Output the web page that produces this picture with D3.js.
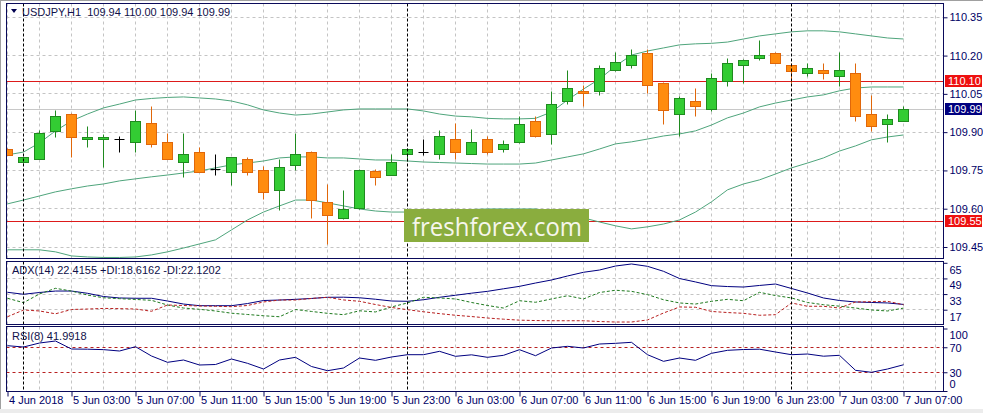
<!DOCTYPE html>
<html><head><meta charset="utf-8">
<script src="https://cdn.jsdelivr.net/npm/d3@7"></script>
<style>
body{margin:0;background:#fff;}
svg{display:block;}
text{font-family:"Liberation Sans Narrow","Arial Narrow","Liberation Sans",Arial,sans-serif;}
</style></head><body>
<svg id="c" width="983" height="413"></svg>
<script>
// ---------------- data ----------------
const symbolTitle = "USDJPY,H1  109.94 110.00 109.94 109.99";
const adxTitle = "ADX(14) 22.4155 +DI:18.6162 -DI:22.1202";
const rsiTitle = "RSI(8) 41.9918";

const timeLabels = ["4 Jun 2018","5 Jun 03:00","5 Jun 07:00","5 Jun 11:00","5 Jun 15:00","5 Jun 19:00","5 Jun 23:00",
  "6 Jun 03:00","6 Jun 07:00","6 Jun 11:00","6 Jun 15:00","6 Jun 19:00","6 Jun 23:00","7 Jun 03:00","7 Jun 07:00"];
const timeLabelIdx = [0,4,8,12,16,20,24,28,32,36,40,44,48,52,56];
const daySeparatorIdx = [1,25,49];

const open  = [109.833,109.780,109.794,109.902,109.970,109.872,109.872,109.872,109.860,109.932,
  109.860,109.780,109.821,109.752,109.743,109.794,109.749,109.671,109.769,109.821,
  109.624,109.561,109.599,109.744,109.731,109.813,109.820,109.813,109.872,109.813,
  109.872,109.833,109.859,109.941,109.892,110.022,110.061,110.061,110.140,110.163,
  110.209,110.091,109.970,110.022,109.990,110.100,110.160,110.189,110.209,110.162,
  110.131,110.140,110.117,110.131,109.970,109.931,109.940];
const high  = [109.835,109.801,109.906,109.984,109.972,109.924,109.892,109.882,109.983,110.002,
  109.893,109.893,109.841,109.814,109.801,109.801,109.765,109.794,109.893,109.823,
  109.696,109.673,109.753,109.752,109.814,109.835,109.872,109.905,109.932,109.912,
  109.882,109.869,109.961,109.961,110.061,110.140,110.081,110.163,110.211,110.222,
  110.222,110.093,110.039,110.072,110.131,110.189,110.184,110.261,110.211,110.170,
  110.170,110.170,110.213,110.170,110.042,109.970,110.000];
const low   = [109.807,109.778,109.794,109.880,109.801,109.841,109.761,109.821,109.820,109.841,
  109.794,109.722,109.743,109.729,109.690,109.729,109.638,109.592,109.749,109.560,
  109.461,109.559,109.597,109.690,109.731,109.784,109.810,109.791,109.791,109.811,
  109.813,109.820,109.857,109.879,109.852,110.009,110.000,110.042,110.138,110.150,
  110.052,109.931,109.882,109.961,109.980,110.078,110.091,110.180,110.168,110.091,
  110.117,110.108,110.078,109.941,109.902,109.859,109.940];
const close = [109.810,109.801,109.893,109.963,109.880,109.880,109.880,109.872,109.941,109.852,
  109.794,109.814,109.743,109.752,109.801,109.743,109.664,109.762,109.814,109.631,
  109.573,109.595,109.751,109.723,109.783,109.833,109.820,109.881,109.821,109.860,
  109.821,109.852,109.931,109.881,110.009,110.072,110.052,110.150,110.171,110.202,
  110.081,109.983,110.033,110.000,110.111,110.170,110.182,110.201,110.170,110.138,
  110.150,110.131,110.140,109.961,109.921,109.950,109.990];

const bbUpper = [109.811,109.822,109.858,109.905,109.944,109.971,109.995,110.010,110.026,110.032,
  110.036,110.038,110.034,110.030,110.022,110.007,109.987,109.975,109.967,109.971,
  109.979,109.987,109.991,109.991,109.991,109.991,109.983,109.971,109.963,109.960,
  109.954,109.952,109.952,109.954,109.979,110.026,110.069,110.108,110.159,110.202,
  110.218,110.230,110.242,110.246,110.248,110.253,110.265,110.277,110.285,110.293,
  110.297,110.297,110.293,110.285,110.277,110.269,110.265];
const bbMiddle = [109.619,109.634,109.650,109.666,109.678,109.689,109.697,109.709,109.717,109.725,
  109.732,109.740,109.748,109.760,109.772,109.779,109.787,109.799,109.803,109.803,
  109.799,109.799,109.795,109.791,109.791,109.787,109.783,109.781,109.779,109.777,
  109.775,109.775,109.775,109.779,109.791,109.803,109.815,109.834,109.854,109.862,
  109.873,109.885,109.893,109.905,109.928,109.956,109.975,109.999,110.014,110.026,
  110.038,110.046,110.062,110.073,110.077,110.077,110.077];
const bbLower = [109.439,109.439,109.439,109.431,109.415,109.411,109.409,109.409,109.411,109.419,
  109.431,109.446,109.462,109.478,109.517,109.556,109.587,109.611,109.634,109.634,
  109.623,109.611,109.599,109.591,109.587,109.587,109.591,109.593,109.595,109.597,
  109.599,109.599,109.599,109.599,109.591,109.580,109.564,109.548,109.533,109.521,
  109.529,109.540,109.556,109.587,109.627,109.674,109.697,109.713,109.736,109.760,
  109.779,109.799,109.826,109.846,109.870,109.881,109.889];

const adx = [34.8,32.8,34.6,36.1,36.1,33.8,30.5,29.0,28.7,28.7,
  25.9,22.8,21.1,21.1,21.1,23.3,26.4,26.9,27.6,28.5,
  29.7,29.8,29.2,27.7,25.9,25.6,27.2,29.7,31.8,33.9,
  35.8,38.4,40.9,44.3,47.4,51.5,55.3,57.6,61.7,63.8,
  61.4,56.3,48.9,45.4,41.6,40.7,40.2,41.8,43.3,38.7,
  34.1,29.0,26.4,24.9,24.4,23.9,22.4155];
const plusDI = [28.7,24.2,33.1,38.9,36.1,32.0,29.2,28.3,27.5,26.6,
  21.8,18.7,17.4,15.7,13.4,12.1,10.8,9.8,17.2,15.2,
  13.3,11.9,15.9,14.7,19.8,23.9,29.7,29.0,28.0,24.4,
  21.3,18.7,26.2,24.6,28.0,31.3,28.0,34.6,36.9,35.8,
  32.4,27.2,23.9,22.8,25.6,27.6,26.2,34.8,31.5,29.0,
  24.4,22.1,20.6,18.7,16.7,15.7,18.6162];
const minusDI = [9.8,16.7,15.7,12.8,17.2,17.7,18.3,18.1,17.7,15.4,
  21.8,21.3,20.8,20.5,20.1,21.3,24.9,26.9,26.9,28.5,
  29.7,27.0,25.6,22.3,19.3,17.0,14.9,13.0,11.3,10.0,
  8.5,7.3,6.3,5.9,5.7,5.7,5.7,4.9,4.4,4.4,
  6.5,13.6,19.8,19.5,15.2,14.1,13.3,11.3,11.9,23.9,
  20.5,20.5,18.7,24.9,25.2,25.6,22.1202];
const rsi = [72.5,70.4,76.8,80.0,67.2,66.9,66.2,64.0,70.9,56.0,
  45.9,49.6,41.6,42.4,51.2,44.3,35.2,49.6,53.9,39.2,
  32.5,36.8,52.8,49.1,54.4,58.1,58.1,63.5,55.5,57.9,
  53.9,57.1,66.1,56.5,68.8,71.5,68.8,75.2,76.3,77.9,
  58.1,47.5,52.8,49.1,60.3,65.1,66.4,66.9,62.4,58.1,
  59.2,55.7,57.1,33.1,29.9,35.2,41.9918];

const priceTicks = [110.35,110.20,110.05,109.90,109.75,109.60,109.45];
const adxTicks = [65,49,33,17];
const rsiTicks = [100,70,30,0];
const rsiLevels = [70,30];
const resistance = 110.10, support = 109.55, bid = 109.99;

// ---------------- layout ----------------
const svg = d3.select('#c');
const L = 6.5, R = 943.5;
const P = {main:{t:3.5,b:258.5}, adx:{t:261.5,b:324.5}, rsi:{t:326.5,b:391.5}};
const navy = "#0a0a5a", axisCol = "#000066", gridCol = "#c4c4c4";
const bbCol = "#4fa57c";
const levelCol = "#dd1a1a";

const x = d3.scaleLinear().domain([0,56]).range([7.5,903.5]);
const yP = d3.scaleLinear().domain([109.45,110.35]).range([247,17.3]);
const yA = d3.scaleLinear().domain([17,65]).range([309.7,262.8]);
const yR = d3.scaleLinear().domain([0,100]).range([391,328.5]);
const crisp = v => Math.round(v - 0.5) + 0.5;

svg.append('rect').attr('width',983).attr('height',413).attr('fill','#fff');
svg.append('rect').attr('x',0).attr('y',409).attr('width',983).attr('height',4).attr('fill','#ececec');
svg.append('line').attr('x1',0.5).attr('x2',0.5).attr('y1',0).attr('y2',409).attr('stroke','#a0a0a0');
svg.append('line').attr('x1',0).attr('x2',983).attr('y1',0.5).attr('y2',0.5).attr('stroke','#a0a0a0');

const defs = svg.append('defs');
Object.entries(P).forEach(([k,p])=>{
  defs.append('clipPath').attr('id','clip-'+k).append('rect')
    .attr('x',L+0.5).attr('y',p.t+0.5).attr('width',R-L-1).attr('height',p.b-p.t-1);
});

// vertical grid
const gridIdx = d3.range(0,59,2);
Object.entries(P).forEach(([k,p])=>{
  const g = svg.append('g').attr('clip-path',`url(#clip-${k})`);
  g.selectAll('line.vg').data(gridIdx).join('line').attr('class','vg')
    .attr('x1',d=>x(d)).attr('x2',d=>x(d)).attr('y1',p.t).attr('y2',p.b)
    .style('stroke',gridCol).attr('stroke-dasharray','3,3');
});

// main horizontal grid
const gm = svg.append('g').attr('clip-path','url(#clip-main)');
gm.selectAll('line.hg').data(priceTicks).join('line').attr('class','hg')
  .attr('x1',L).attr('x2',R).attr('y1',d=>crisp(yP(d))).attr('y2',d=>crisp(yP(d)))
  .style('stroke',gridCol).attr('stroke-dasharray','3,3');
// adx horizontal grid
const ga = svg.append('g').attr('clip-path','url(#clip-adx)');
ga.selectAll('line.hg').data(adxTicks.slice(1)).join('line').attr('class','hg')
  .attr('x1',L).attr('x2',R).attr('y1',d=>crisp(yA(d))).attr('y2',d=>crisp(yA(d)))
  .style('stroke',gridCol).attr('stroke-dasharray','3,3');

// day separators
Object.entries(P).forEach(([k,p])=>{
  svg.append('g').selectAll('line.sep').data(daySeparatorIdx).join('line').attr('class','sep')
    .attr('x1',d=>x(d)).attr('x2',d=>x(d)).attr('y1',p.t).attr('y2',p.b)
    .style('stroke','#000').attr('stroke-dasharray','3,2');
});

// bid line and levels
gm.append('line').attr('x1',L).attr('x2',R).attr('y1',crisp(yP(bid))).attr('y2',crisp(yP(bid))).style('stroke','#c8c8c8');
gm.selectAll('rect.level').data([resistance,support]).join('rect').attr('class','level')
  .attr('x',L).attr('width',R-L).attr('y',d=>Math.round(yP(d)-0.5)).attr('height',1)
  .attr('fill',levelCol);

// bollinger bands
[bbUpper,bbMiddle,bbLower].forEach(arr=>{
  gm.append('path').datum(arr).attr('fill','none').style('stroke',bbCol).attr('stroke-width',1)
    .attr('d',d3.line().x((d,i)=>x(i)).y(d=>yP(d)));
});

// candles
const candles = open.map((o,i)=>({i,o,h:high[i],l:low[i],c:close[i]}));
const cg = gm.append('g');
candles.forEach(d=>{
  const cx = x(d.i);
  const up = d.c > d.o, doji = d.c === d.o;
  const stroke = doji ? '#000' : (up ? '#1f8a1f' : '#e0670a');
  const fill = up ? '#33cc33' : '#ff8c0f';
  cg.append('line').attr('x1',cx).attr('x2',cx).attr('y1',crisp(yP(d.h))).attr('y2',crisp(yP(d.l))).style('stroke',stroke);
  if (doji) {
    const yy = crisp(yP(d.o));
    cg.append('line').attr('x1',cx-5).attr('x2',cx+5).attr('y1',yy).attr('y2',yy).style('stroke','#000');
  } else {
    const yt = crisp(yP(Math.max(d.o,d.c))), yb = crisp(yP(Math.min(d.o,d.c)));
    cg.append('rect').attr('x',cx-5).attr('y',yt).attr('width',10).attr('height',Math.max(1,yb-yt))
      .attr('fill',fill).style('stroke',stroke);
  }
});

// watermark
svg.append('rect').attr('x',404).attr('y',209).attr('width',185).attr('height',33).attr('fill','#8aad3e');
svg.append('text').attr('x',412).attr('y',235.5).text('freshforex.com')
  .style('font-family','"Open Sans",sans-serif').style('font-size','25px').attr('fill','#f6f6ec')
  .attr('textLength',170).attr('lengthAdjust','spacingAndGlyphs');

// ADX lines
const la = d3.line().x((d,i)=>x(i)).y(d=>yA(d));
ga.append('path').datum(adx).attr('fill','none').style('stroke','#000080').attr('d',la);
ga.append('path').datum(plusDI).attr('fill','none').style('stroke','#1f7a1f').attr('stroke-dasharray','3,2').attr('d',la);
ga.append('path').datum(minusDI).attr('fill','none').style('stroke','#b82020').attr('stroke-dasharray','3,2').attr('d',la);

// RSI
const gr = svg.append('g').attr('clip-path','url(#clip-rsi)');
gr.selectAll('line.lvl').data(rsiLevels).join('line').attr('class','lvl')
  .attr('x1',L).attr('x2',R).attr('y1',d=>crisp(yR(d))).attr('y2',d=>crisp(yR(d)))
  .style('stroke','#b82020').attr('stroke-dasharray','3,3');
gr.append('path').datum(rsi).attr('fill','none').style('stroke','#000080')
  .attr('d',d3.line().x((d,i)=>x(i)).y(d=>yR(d)));

// panel borders
Object.values(P).forEach(p=>{
  svg.append('rect').attr('x',L).attr('y',p.t).attr('width',R-L).attr('height',p.b-p.t)
    .attr('fill','none').style('stroke',navy);
});

// axes
function styleAxis(g){
  g.select('.domain').remove();
  g.selectAll('.tick line').style('stroke',navy);
  g.selectAll('text').attr('fill',axisCol).style('font-size','11px')
    .style('font-family','"Liberation Sans Narrow","Arial Narrow","Liberation Sans",Arial,sans-serif');
}
const axP = svg.append('g').attr('transform',`translate(${R},0)`)
  .call(d3.axisRight(yP).tickValues(priceTicks).tickSize(4).tickPadding(2).tickFormat(d3.format('.2f')));
styleAxis(axP);
const axA = svg.append('g').attr('transform',`translate(${R},0)`)
  .call(d3.axisRight(yA).tickValues(adxTicks).tickSize(4).tickPadding(2).tickFormat(d3.format('d')));
styleAxis(axA);
axA.selectAll('text').attr('y',7);
const axR = svg.append('g').attr('transform',`translate(${R},0)`)
  .call(d3.axisRight(yR).tickValues(rsiTicks).tickSize(4).tickPadding(2).tickFormat(d3.format('d')));
styleAxis(axR);
axR.selectAll('text').attr('y',d=> d===100 ? 6 : d===0 ? -7 : 1);

const axX = svg.append('g').attr('transform',`translate(0,${P.rsi.b})`)
  .call(d3.axisBottom(x).tickValues(timeLabelIdx).tickSize(5).tickPadding(0).tickFormat((d,i)=>timeLabels[i]));
styleAxis(axX);
axX.selectAll('text').attr('text-anchor','start').attr('x',1);

// level labels
function levelLabel(v,col){
  const yy = yP(v);
  svg.append('rect').attr('x',945).attr('y',Math.round(yy)-6).attr('width',37).attr('height',12).attr('fill',col);
  svg.append('text').attr('x',948).attr('y',yy).attr('dy','0.35em').text(d3.format('.2f')(v))
    .attr('fill','#fff').style('font-size','11px');
}
levelLabel(resistance,'#ee1010');
levelLabel(support,'#ee1010');
levelLabel(bid,'#000080');

// titles
svg.append('path').attr('d','M11,9L17,9L14,13Z').attr('fill','#000050');
svg.append('text').attr('x',22).attr('y',12).attr('dy','0.35em').text(symbolTitle)
  .attr('fill','#10104a').style('font-size','11px').style('white-space','pre');
svg.append('text').attr('x',12).attr('y',270.5).attr('dy','0.35em').text(adxTitle)
  .attr('fill','#10104a').style('font-size','11px');
svg.append('text').attr('x',12).attr('y',336.5).attr('dy','0.35em').text(rsiTitle)
  .attr('fill','#10104a').style('font-size','11px');
</script>
</body></html>
